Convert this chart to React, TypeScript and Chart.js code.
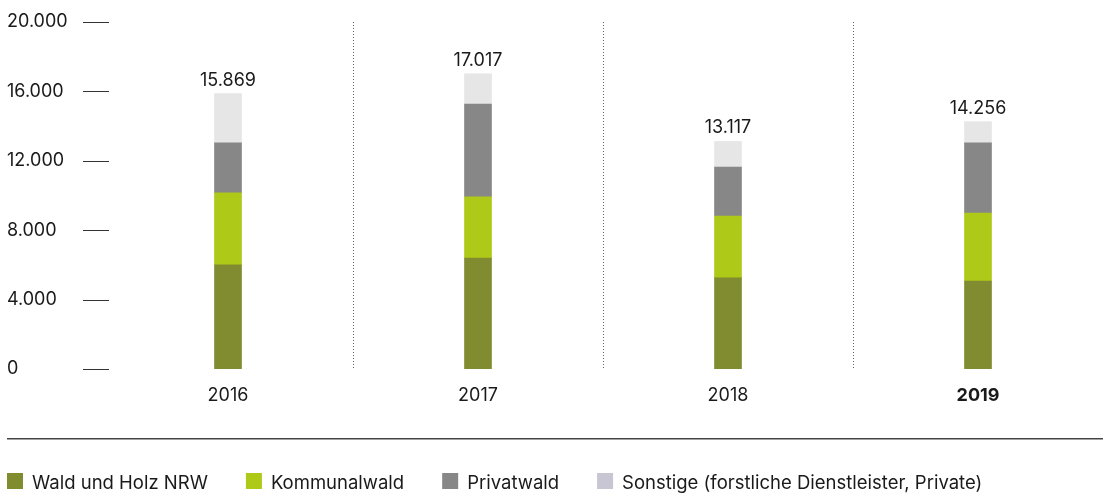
import React, { useEffect, useRef } from "react";
import { Chart, registerables } from "chart.js";

Chart.register(...registerables);

const years = ["2016", "2017", "2018", "2019"];
const waldUndHolz = [6000, 6400, 5250, 5070];
const kommunalwald = [4150, 3520, 3570, 3920];
const privatwald = [2880, 5350, 2820, 4040];
const sonstige = [2839, 1747, 1477, 1226];
const totals = [15869, 17017, 13117, 14256];
const yTicks = [0, 4000, 8000, 12000, 16000, 20000];

const seriesLabels = [
  "Wald und Holz NRW",
  "Kommunalwald",
  "Privatwald",
  "Sonstige (forstliche Dienstleister, Private)",
];
const barColors = ["#808c2f", "#afc918", "#878787", "#e6e6e6"];
const legendColors = ["#808c2f", "#afc918", "#878787", "#c8c6d3"];

const FONT = "Inter, 'Open Sans', sans-serif";
const TEXT = "#1a1a1a";

const fmt = (v: number) => String(Math.round(v)).replace(/\B(?=(\d{3})+(?!\d))/g, ".");

const decorPlugin = {
  id: "decor",
  afterDraw(chart: any) {
    const { ctx, chartArea, scales } = chart;
    const x = scales.x;
    const y = scales.y;
    ctx.save();
    // y tick dashes
    ctx.strokeStyle = "#333";
    ctx.lineWidth = 1;
    yTicks.forEach((t) => {
      const py = Math.round(y.getPixelForValue(t)) + 0.5;
      ctx.beginPath();
      ctx.moveTo(chartArea.left - 20, py);
      ctx.lineTo(chartArea.left + 6, py);
      ctx.stroke();
    });
    // dotted dividers
    ctx.strokeStyle = "#666";
    ctx.setLineDash([1, 2]);
    for (let i = 1; i < years.length; i++) {
      const px = Math.round((x.getPixelForTick(i - 1) + x.getPixelForTick(i)) / 2) + 0.5;
      ctx.beginPath();
      ctx.moveTo(px, chartArea.top);
      ctx.lineTo(px, chartArea.bottom);
      ctx.stroke();
    }
    ctx.setLineDash([]);
    // totals
    ctx.fillStyle = TEXT;
    ctx.font = `18px ${FONT}`;
    ctx.textAlign = "center";
    ctx.textBaseline = "alphabetic";
    totals.forEach((t, i) => {
      ctx.fillText(fmt(t), x.getPixelForTick(i), y.getPixelForValue(t) - 8);
    });
    // rule
    ctx.strokeStyle = "#444";
    ctx.lineWidth = 1.5;
    ctx.beginPath();
    ctx.moveTo(7, 438.75);
    ctx.lineTo(chartArea.right, 438.75);
    ctx.stroke();
    // legend
    ctx.font = `18.5px ${FONT}`;
    ctx.textAlign = "left";
    ctx.textBaseline = "alphabetic";
    let lx = 7;
    const boxTop = 473;
    chart.data.datasets.forEach((ds: any, i: number) => {
      ctx.fillStyle = legendColors[i];
      ctx.fillRect(lx, boxTop, 16, 16);
      ctx.fillStyle = TEXT;
      const tx = lx + 25;
      ctx.fillText(ds.label, tx, boxTop + 16);
      lx = tx + ctx.measureText(ds.label).width + 38;
    });
    ctx.restore();
  },
};

export default function App() {
  const ref = useRef<HTMLCanvasElement>(null);
  useEffect(() => {
    const seriesData = [waldUndHolz, kommunalwald, privatwald, sonstige];
    const chart = new Chart(ref.current!, {
      type: "bar",
      data: {
        labels: years,
        datasets: seriesData.map((d, i) => ({
          label: seriesLabels[i],
          data: d,
          backgroundColor: barColors[i],
          borderWidth: 0,
          barThickness: 27,
          stack: "s",
        })),
      },
      options: {
        responsive: false,
        animation: false,
        devicePixelRatio: 1,
        layout: { padding: { left: 7, top: 22, right: 3, bottom: 0 } },
        plugins: { legend: { display: false }, tooltip: { enabled: false } },
        scales: {
          x: {
            stacked: true,
            border: { display: false },
            grid: { display: false, drawTicks: false },
            ticks: {
              color: TEXT,
              padding: 16,
              font: (c: any) => ({ family: FONT, size: 18, weight: c.index === 3 ? "bold" : "normal" }),
            },
            afterFit: (s: any) => {
              s.height = 125;
            },
          },
          y: {
            stacked: true,
            min: 0,
            max: 20000,
            border: { display: false },
            grid: { display: false, drawTicks: false },
            afterBuildTicks: (s: any) => {
              s.ticks = yTicks.map((v) => ({ value: v }));
            },
            ticks: {
              color: TEXT,
              crossAlign: "far",
              font: { family: FONT, size: 18 },
              callback: (v: any) => fmt(Number(v)),
            },
            afterFit: (s: any) => {
              s.width = 96;
            },
          },
        },
      },
      plugins: [decorPlugin],
    });
    return () => chart.destroy();
  }, []);
  return (
    <div style={{ position: "absolute", left: 0, top: 0, width: 1106, height: 494, background: "#fff" }}>
      <canvas ref={ref} width={1106} height={494} style={{ display: "block" }} />
    </div>
  );
}
